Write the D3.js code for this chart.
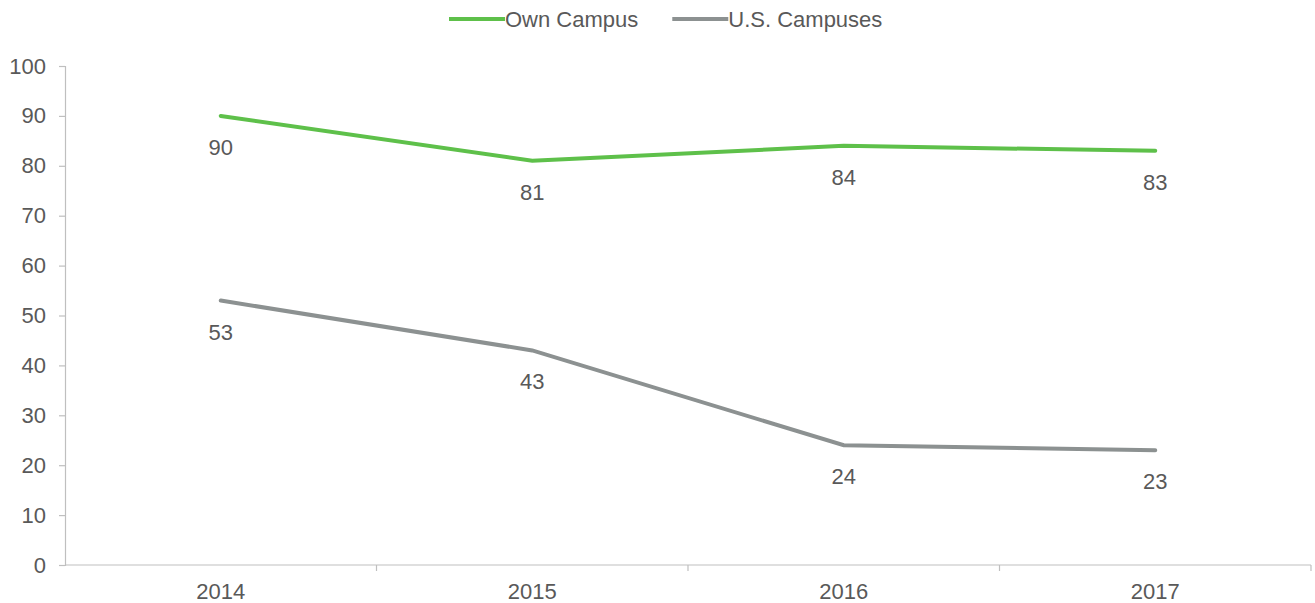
<!DOCTYPE html>
<html>
<head>
<meta charset="utf-8">
<script src="https://cdn.jsdelivr.net/npm/d3@7/dist/d3.min.js"></script>
<style>
  body { margin: 0; background: #fff; }
  text { font-family: "Liberation Sans", Arial, sans-serif; fill: #595959; }
</style>
</head>
<body>
<div id="chart"></div>
<script>
// Line chart: own campus vs. U.S. campuses, 2014–2017
const years = ["2014", "2015", "2016", "2017"];
const ownCampus = [90, 81, 84, 83];
const usCampuses = [53, 43, 24, 23];
const yTicks = [0, 10, 20, 30, 40, 50, 60, 70, 80, 90, 100];

const series = [
  { name: "Own Campus", values: ownCampus, color: "#5ec04a" },
  { name: "U.S. Campuses", values: usCampuses, color: "#8c9191" }
];

const width = 1315, height = 603;
const margin = { top: 66, right: 4, bottom: 38, left: 65 };
const fontSize = 22;

const svg = d3.select("#chart").append("svg")
  .attr("width", width).attr("height", height);

const x = d3.scaleBand().domain(years)
  .range([margin.left, width - margin.right]);
const y = d3.scaleLinear().domain([0, 100])
  .range([height - margin.bottom, margin.top]);

// Y axis
const gY = svg.append("g").attr("transform", `translate(${margin.left},0)`)
  .call(d3.axisLeft(y).tickValues(yTicks).tickSize(6).tickPadding(13));
gY.selectAll("path, line").attr("stroke", "#bfbfbf").attr("stroke-width", 1.2);
gY.selectAll("text").attr("font-size", fontSize).attr("fill", "#595959");

// X axis: ticks sit at band boundaries
const gX = svg.append("g").attr("transform", `translate(0,${y(0)})`);
gX.append("line")
  .attr("x1", margin.left).attr("x2", width - margin.right)
  .attr("stroke", "#bfbfbf").attr("stroke-width", 1.2);
gX.selectAll("line.tick").data(years).join("line")
  .attr("class", "tick")
  .attr("x1", d => x(d) + x.bandwidth()).attr("x2", d => x(d) + x.bandwidth())
  .attr("y1", 0).attr("y2", 6)
  .attr("stroke", "#bfbfbf").attr("stroke-width", 1.2);
gX.selectAll("text").data(years).join("text")
  .attr("x", d => x(d) + x.bandwidth() / 2)
  .attr("y", 34)
  .attr("text-anchor", "middle")
  .attr("font-size", fontSize)
  .text(d => d);

// Lines
const line = d3.line()
  .x((d, i) => x(years[i]) + x.bandwidth() / 2)
  .y(d => y(d));

svg.append("g").selectAll("path").data(series).join("path")
  .attr("d", s => line(s.values))
  .attr("fill", "none")
  .attr("stroke", s => s.color)
  .attr("stroke-width", 4)
  .attr("stroke-linecap", "round");

// Data labels below each point
series.forEach(s => {
  svg.append("g").selectAll("text").data(s.values).join("text")
    .attr("x", (d, i) => x(years[i]) + x.bandwidth() / 2)
    .attr("y", d => y(d) + 39)
    .attr("text-anchor", "middle")
    .attr("font-size", fontSize)
    .text(d => d);
});

// Legend
const legend = svg.append("g").attr("transform", "translate(449,19)");
let xOff = 0;
series.forEach(s => {
  const g = legend.append("g").attr("transform", `translate(${xOff},0)`);
  g.append("line").attr("x1", 0).attr("x2", 56)
    .attr("stroke", s.color).attr("stroke-width", 4);
  const t = g.append("text").attr("x", 56).attr("y", 8)
    .attr("font-size", fontSize).text(s.name);
  xOff += 56 + t.node().getComputedTextLength() + 34;
});
</script>
</body>
</html>
